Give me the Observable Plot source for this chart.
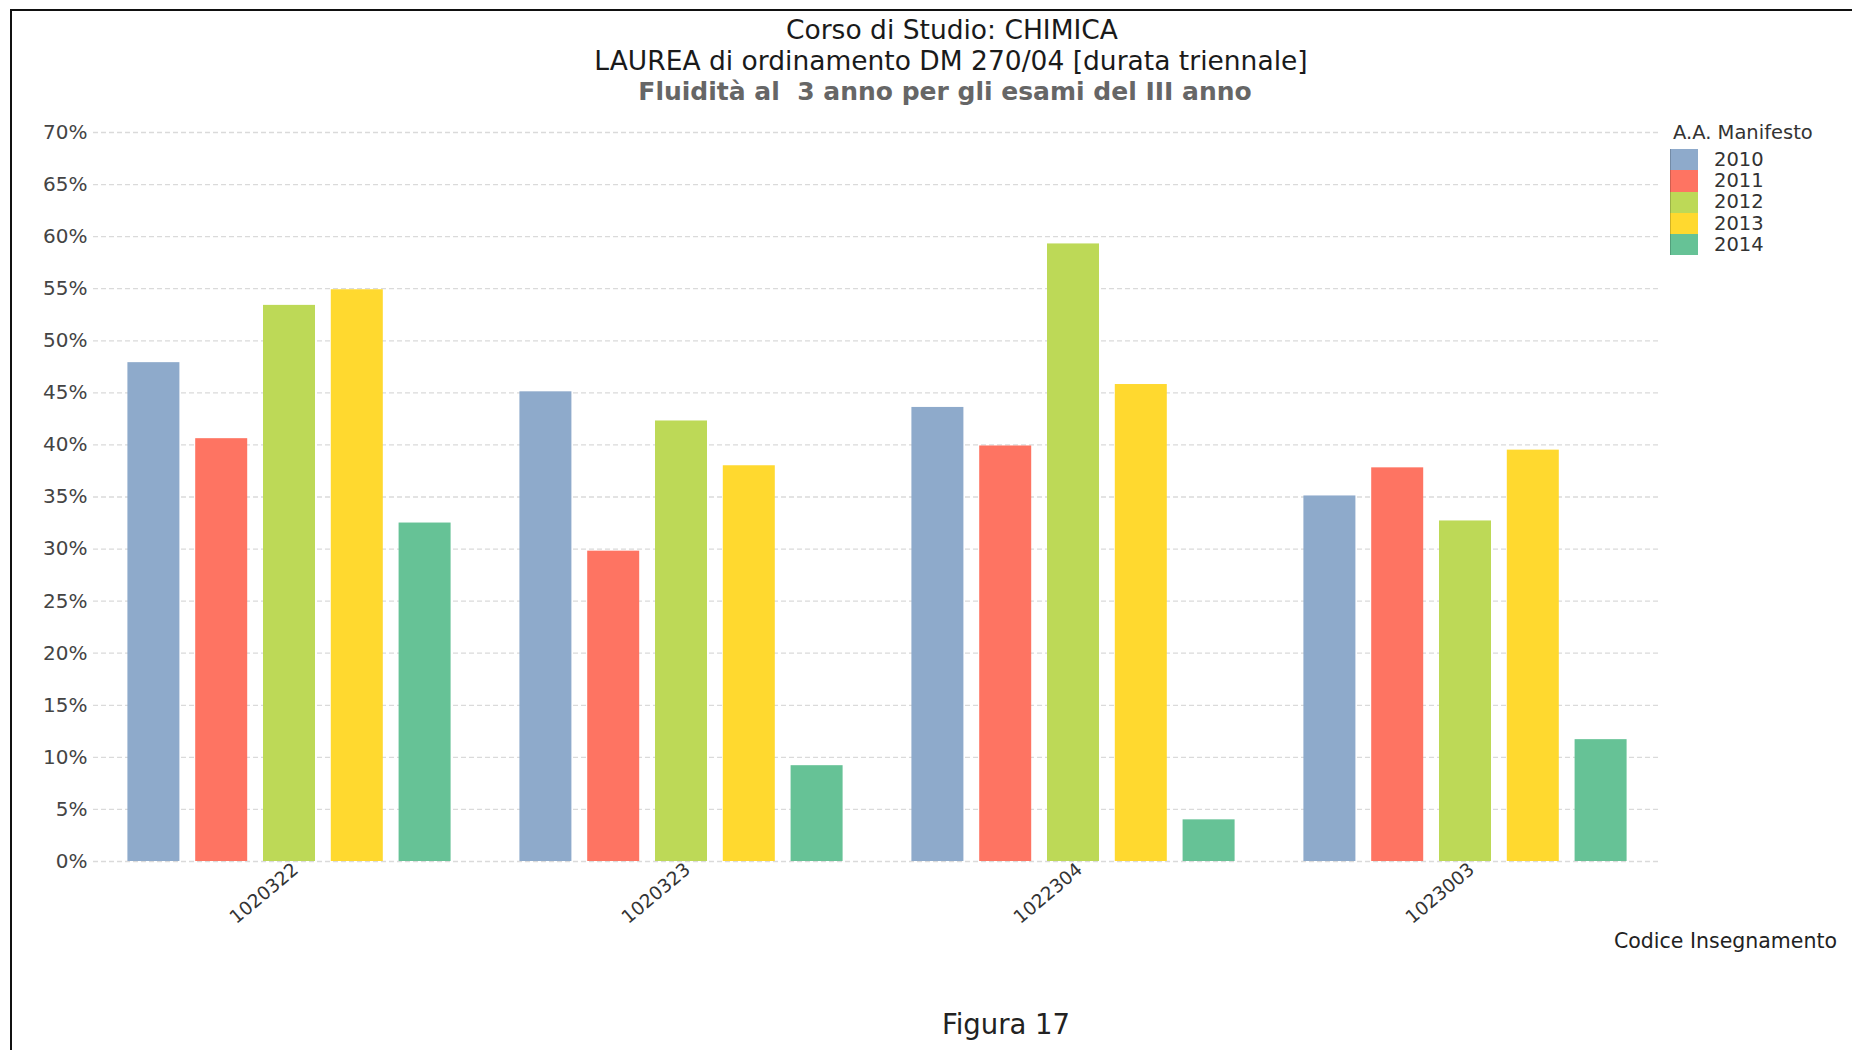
<!DOCTYPE html>
<html>
<head>
<meta charset="utf-8">
<script src="https://cdn.jsdelivr.net/npm/d3@7"></script>
<script src="https://cdn.jsdelivr.net/npm/@observablehq/plot@0.6"></script>
<style>
  html, body { margin: 0; padding: 0; background: #fff; }
  body { width: 1852px; height: 1050px; position: relative; overflow: hidden; font-family: "DejaVu Sans", sans-serif; }
  .frame { position: absolute; left: 10px; top: 9px; width: 1900px; height: 1100px; border-top: 2px solid #111; border-left: 2px solid #111; box-sizing: border-box; }
  .txt { position: absolute; white-space: pre; transform: translate(-50%, -50%); line-height: 0.9; }
  .title { color: #1a1a1a; font-size: 26.5px; }
  .subtitle { color: #666; font-size: 25px; font-weight: bold; }
  #chart { position: absolute; left: 0; top: 110px; }
  .xlab { position: absolute; right: 15px; top: 941px; transform: translateY(-50%); font-size: 20.5px; color: #222; white-space: pre; line-height: 1; }
  .caption { color: #222; font-size: 27.5px; }
  #legend { position: absolute; left: 1670px; top: 121px; color: #333; }
  #legend .lt { font-size: 19.5px; margin-left: 3px; height: 24px; line-height: 24px; margin-bottom: 4px; }
  #legend .row { display: flex; align-items: center; height: 21.3px; }
  #legend .sw { width: 28px; height: 21.3px; box-sizing: border-box; border-left: 1px solid rgba(0,0,0,0.18); }
  #legend .lab { font-size: 19.5px; margin-left: 16px; line-height: 1; }
</style>
</head>
<body>
<div class="frame"></div>
<div class="txt title" style="left:952px; top:29.5px;">Corso di Studio: CHIMICA</div>
<div class="txt title" style="left:951px; top:60.5px;">LAUREA di ordinamento DM 270/04 [durata triennale]</div>
<div class="txt subtitle" style="left:945px; top:92px;">Fluidità al  3 anno per gli esami del III anno</div>
<div id="chart"></div>
<div id="legend"></div>
<div class="xlab">Codice Insegnamento</div>
<div class="txt caption" style="left:1006px; top:1024px;">Figura 17</div>
<script>
// Course codes (x groups) and cohort years (bars within each group)
const codes = ["1020322", "1020323", "1022304", "1023003"];
const years = ["2010", "2011", "2012", "2013", "2014"];

// Share of students passing third-year exams by the third year, per cohort
const v2010 = [0.479, 0.451, 0.436, 0.351];
const v2011 = [0.406, 0.298, 0.399, 0.378];
const v2012 = [0.534, 0.423, 0.593, 0.327];
const v2013 = [0.549, 0.380, 0.458, 0.395];
const v2014 = [0.325, 0.092, 0.040, 0.117];

const yearColors = ["#8EAACB", "#FE7462", "#BDD957", "#FFD92F", "#66C296"];
const yTicks = [0, 0.05, 0.10, 0.15, 0.20, 0.25, 0.30, 0.35, 0.40, 0.45, 0.50, 0.55, 0.60, 0.65, 0.70];

const series = [v2010, v2011, v2012, v2013, v2014];
const rows = years.flatMap((yr, i) => codes.map((c, j) => ({code: c, year: yr, value: series[i][j]})));

const chart = Plot.plot({
  width: 1852,
  height: 880,
  marginTop: 22,
  marginBottom: 129,
  marginLeft: 93,
  marginRight: 191,
  style: {fontFamily: "DejaVu Sans", background: "transparent", overflow: "visible"},
  fx: {domain: codes, paddingInner: 0, paddingOuter: 0, label: null, axis: null, round: false},
  x: {type: "band", domain: years, paddingInner: 0.233, paddingOuter: 0.5075, axis: null, round: false},
  y: {domain: [0, 0.7], axis: null},
  color: {domain: years, range: yearColors},
  marks: [
    Plot.gridY(yTicks, {stroke: "#dadada", strokeOpacity: 1, strokeWidth: 1.3, strokeDasharray: "5,3"}),
    Plot.axisY(yTicks, {tickSize: 0, tickPadding: 6, tickFormat: d3.format(".0%"), fontSize: 20, fill: "#444", label: null}),
    Plot.barY(rows, {fx: "code", x: "year", y: "value", fill: "year"}),
    Plot.axisFx({anchor: "bottom", tickSize: 0, tickPadding: 10, tickRotate: -40, textAnchor: "end", lineAnchor: "bottom", dx: 10, fontSize: 18.5, fill: "#333", label: null})
  ]
});
document.getElementById("chart").appendChild(chart);

// Legend built from the chart's own colour scale
const color = chart.scale("color");
const legend = d3.select("#legend");
legend.append("div").attr("class", "lt").text("A.A. Manifesto");
const row = legend.selectAll(".row").data(color.domain).join("div").attr("class", "row");
row.append("div").attr("class", "sw").style("background", (d, i) => color.range[i]);
row.append("div").attr("class", "lab").text(d => d);
</script>
</body>
</html>
